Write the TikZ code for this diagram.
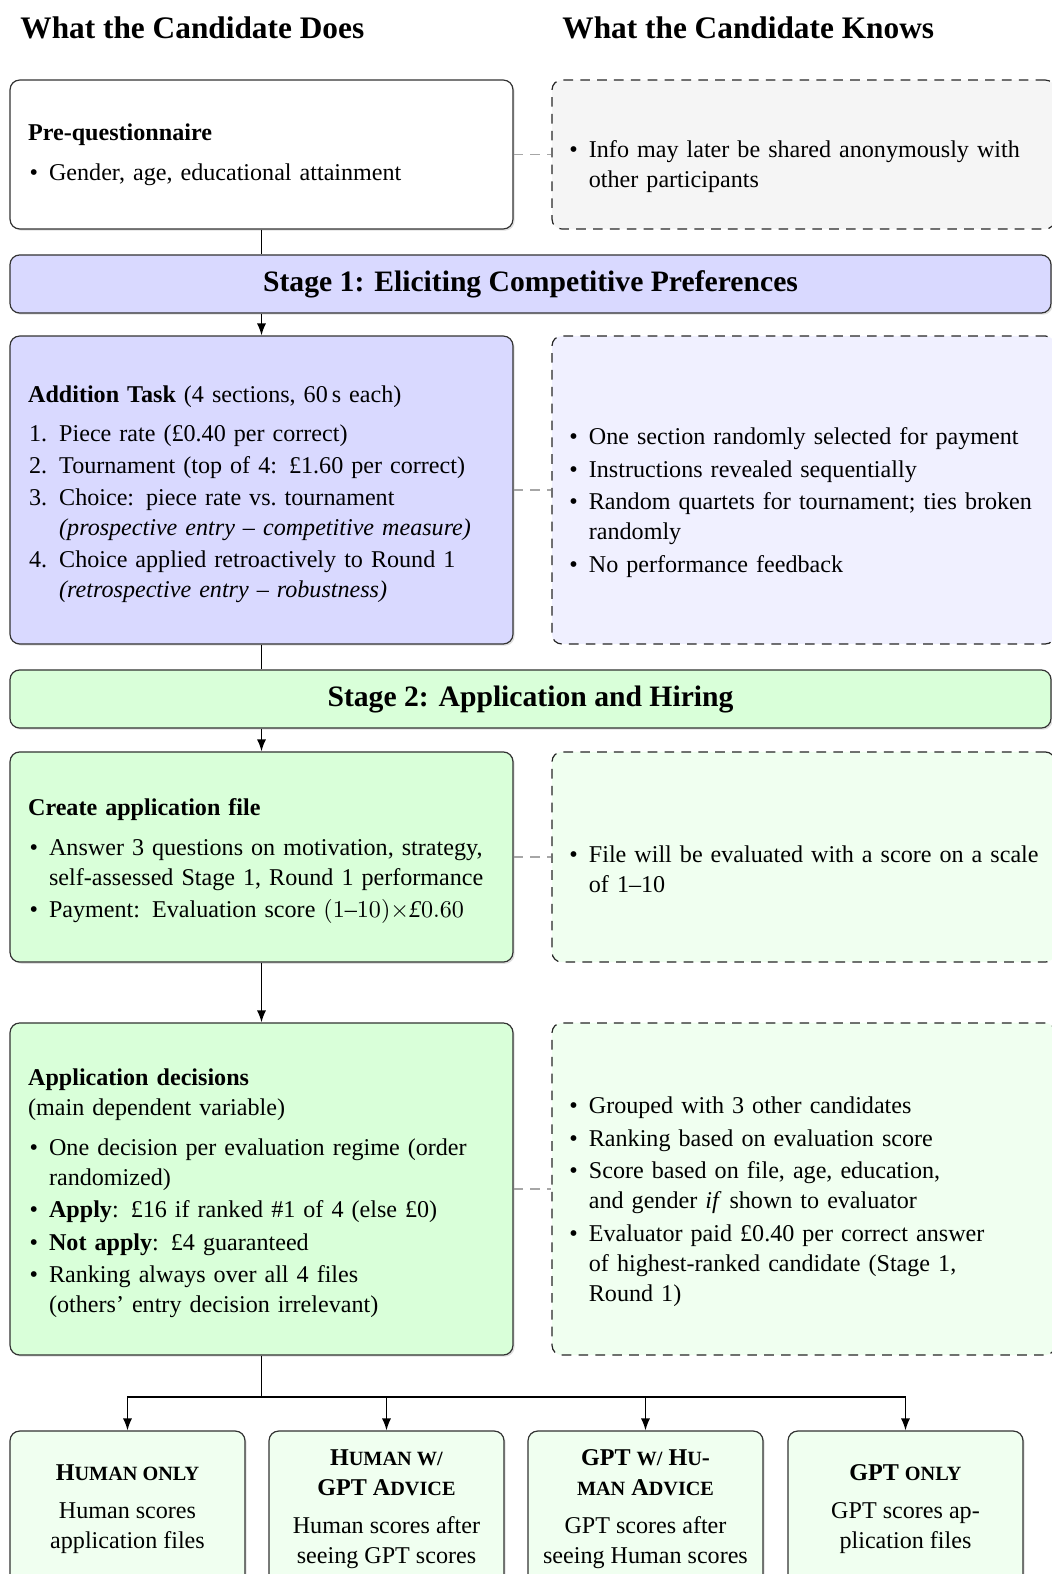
\documentclass[tikz,border=0pt]{standalone}
\usepackage{fontspec}
\setmainfont{Liberation Serif}
\usepackage{enumitem}
\usetikzlibrary{positioning,shadows,arrows.meta}

\setlist[itemize]{nosep,topsep=0pt,itemsep=1pt,leftmargin=8.7pt,labelsep=4.6pt}
\setlist[enumerate]{nosep,topsep=0pt,itemsep=0.8pt,leftmargin=12.9pt,labelsep=5pt}

% fake small capitals (the main font has none)
\newcommand{\fakesc}[1]{{\fontsize{8.4}{9}\selectfont #1}}
% taller first line, pushes the box text down a little
\newcommand{\headstrut}{\rule{0pt}{10.5pt}}

\tikzset{
  base/.style={font=\fontsize{10}{12.45}\selectfont, rounded corners=4pt, line width=0.5pt},
  softshadow/.style={drop shadow={opacity=0.25, shadow xshift=0.7pt, shadow yshift=-0.7pt}},
  doesbox/.style={base, draw=black!80, softshadow, text width=193.7pt, inner xsep=7.5pt,
    minimum width=208.7pt, align=left},
  knowsbox/.style={base, draw=black!85, dash pattern=on 4pt off 3pt, text width=195.5pt,
    inner xsep=6.6pt, minimum width=208.7pt, align=left},
  stagebar/.style={base, draw=black!80, softshadow, minimum width=432pt, minimum height=24.1pt,
    font=\fontsize{12.3}{14}\selectfont\bfseries},
  regimebox/.style={base, draw=black!80, softshadow, fill=green!6, minimum width=97.5pt,
    minimum height=70.1pt},
  regimetext/.style={font=\fontsize{10}{12.45}\selectfont, align=center, inner sep=0pt},
  colhead/.style={font=\fontsize{13}{15}\selectfont\bfseries, anchor=base west, inner sep=0pt},
  link/.style={draw=black!35, dash pattern=on 4pt off 3pt, line width=0.6pt},
  flow/.style={line width=0.6pt},
  flowarrow/.style={flow, -{Latex[length=5pt,width=3.8pt]}}
}

\begin{document}
\begin{tikzpicture}[x=0.415pt, y=-0.415pt]
  \useasboundingbox (0,0) rectangle (1052,1574);

  % Column headers
  \node[colhead] (doeshead) at (20,38) {What the Candidate Does};
  \node[colhead] (knowshead) at (562,38) {What the Candidate Knows};

  % Pre-questionnaire
  \node[doesbox, fill=white, minimum height=61.8pt] (pre) at (261.5,154.5) {%
    \textbf{Pre-questionnaire}\par\vspace{4pt}
    \begin{itemize}
      \item Gender, age, educational attainment
    \end{itemize}};
  \node[knowsbox, fill=black!4, minimum height=61.8pt] (preinfo) at (803.5,154.5) {%
    \vspace*{5pt}
    \begin{itemize}
      \item Info may later be shared anonymously with other participants
    \end{itemize}};

  % Stage 1
  \node[stagebar, fill=blue!15] (stage1) at (530.5,284) {Stage 1: Eliciting Competitive Preferences};

  \node[doesbox, fill=blue!15, minimum height=127.8pt] (task) at (261.5,490) {%
    \headstrut\textbf{Addition Task} (4 sections, 60\,s each)\par\vspace{4pt}
    \begin{enumerate}
      \item Piece rate (£0.40 per correct)
      \item Tournament (top of 4: £1.60 per correct)
      \item Choice: piece rate vs.\ tournament\newline
            \textit{(prospective entry -- competitive measure)}
      \item Choice applied retroactively to Round 1\newline
            \textit{(retrospective entry -- robustness)}
    \end{enumerate}};
  \node[knowsbox, fill=blue!6, minimum height=127.8pt] (taskinfo) at (803.5,490) {%
    \vspace*{5pt}
    \begin{itemize}
      \item One section randomly selected for payment
      \item Instructions revealed sequentially
      \item Random quartets for tournament; ties broken randomly
      \item No performance feedback
    \end{itemize}};

  % Stage 2
  \node[stagebar, fill=green!15] (stage2) at (530.5,699) {Stage 2: Application and Hiring};

  \node[doesbox, fill=green!15, minimum height=87.2pt] (file) at (261.5,857) {%
    \headstrut\textbf{Create application file}\par\vspace{4pt}
    \begin{itemize}
      \item Answer 3 questions on motivation, strategy, self-assessed Stage 1, Round 1 performance
      \item Payment: Evaluation score $(1$--$10)\times$\textit{£}$0.60$
    \end{itemize}};
  \node[knowsbox, fill=green!6, minimum height=87.2pt] (fileinfo) at (803.5,857) {%
    \vspace*{5pt}
    \begin{itemize}
      \item File will be evaluated with a score on a scale of 1--10
    \end{itemize}};

  \node[doesbox, fill=green!15, minimum height=137.8pt] (decide) at (261.5,1189) {%
    \headstrut\textbf{Application decisions}\newline
    (main dependent variable)\par\vspace{4pt}
    \begin{itemize}
      \item One decision per evaluation regime (order randomized)
      \item \textbf{Apply}: £16 if ranked \#1 of 4 (else £0)
      \item \textbf{Not apply}: £4 guaranteed
      \item Ranking always over all 4 files\newline (others' entry decision irrelevant)
    \end{itemize}};
  \node[knowsbox, fill=green!6, minimum height=137.8pt] (decideinfo) at (803.5,1189) {%
    \vspace*{5pt}
    \begin{itemize}
      \item Grouped with 3 other candidates
      \item Ranking based on evaluation score
      \item Score based on file, age, education,\newline and gender \textit{if} shown to evaluator
      \item Evaluator paid £0.40 per correct answer\newline of highest-ranked candidate (Stage 1,\newline Round 1)
    \end{itemize}};

  % Evaluation regimes
  \node[regimebox] (hum) at (127.5,1515.5) {};
  \node[regimebox] (humgpt) at (386.5,1515.5) {};
  \node[regimebox] (gpthum) at (645.5,1515.5) {};
  \node[regimebox] (gpt) at (905.5,1515.5) {};

  \node[regimetext] (humtxt) at (127.5,1509) {\textbf{H\fakesc{UMAN ONLY}}\\[3.3pt]
    Human scores\\application files};
  \node[regimetext] (humgpttxt) at (386.5,1509) {\textbf{H\fakesc{UMAN W/}}\\\textbf{GPT A\fakesc{DVICE}}\\[3.3pt]
    Human scores after\\seeing GPT scores};
  \node[regimetext] (gpthumtxt) at (645.5,1509) {\textbf{GPT \fakesc{W/} H\fakesc{U}-}\\\textbf{\fakesc{MAN} A\fakesc{DVICE}}\\[3.3pt]
    GPT scores after\\seeing Human scores};
  \node[regimetext] (gpttxt) at (905.5,1509) {\textbf{GPT \fakesc{ONLY}}\\[3.3pt]
    GPT scores ap-\\plication files};

  % Links between the columns
  \draw[link] (pre.east) -- (preinfo.west);
  \draw[link] (task.east) -- (taskinfo.west);
  \draw[link] (file.east) -- (fileinfo.west);
  \draw[link] (decide.east) -- (decideinfo.west);

  % Flow
  \draw[flow] (pre.south) -- (pre.south |- stage1.north);
  \draw[flowarrow] (stage1.south -| task.north) -- (task.north);
  \draw[flow] (task.south) -- (task.south |- stage2.north);
  \draw[flowarrow] (stage2.south -| file.north) -- (file.north);
  \draw[flowarrow] (file.south) -- (decide.north);

  \coordinate (bus) at (261.5,1397);
  \draw[flow] (decide.south) -- (bus);
  \foreach \regime in {hum,humgpt,gpthum,gpt}
    \draw[flowarrow] (bus) -| (\regime.north);

\end{tikzpicture}
\end{document}
